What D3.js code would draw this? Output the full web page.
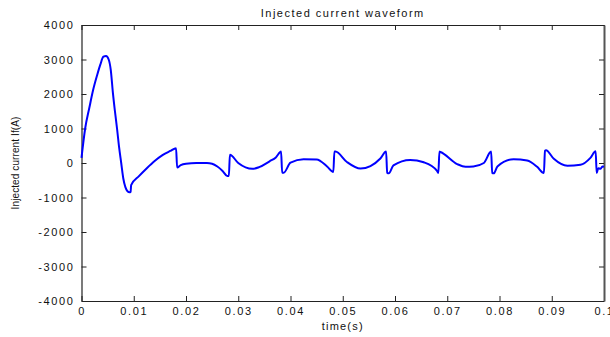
<!DOCTYPE html>
<html>
<head>
<meta charset="utf-8">
<script src="https://cdn.jsdelivr.net/npm/d3@7"></script>
<style>
  body { margin: 0; background: #fff; }
  text { font-family: "Liberation Sans", Arial, sans-serif; fill: #111; }
</style>
</head>
<body>
<svg id="chart" width="610" height="337"></svg>
<script>
// injected current (time in s, current in A)
const time = [
  0, 0.0007, 0.0015, 0.0022, 0.003, 0.0036, 0.0042, 0.0047, 0.0052, 0.0056,
  0.006, 0.0064, 0.0068, 0.0072, 0.0076, 0.008, 0.0084, 0.0088, 0.0092, 0.0094,
  0.0095, 0.011, 0.0125, 0.014, 0.0155, 0.017, 0.0181,
  0.0183, 0.019, 0.020, 0.022, 0.024, 0.025, 0.026, 0.027, 0.0279, 0.0282,
  0.0284, 0.030, 0.0327, 0.034, 0.036, 0.0372, 0.0382,
  0.0384, 0.0387, 0.040, 0.0425, 0.045, 0.047, 0.0482,
  0.0484, 0.0486, 0.0508, 0.0534, 0.0553, 0.0572, 0.0583,
  0.0585, 0.0588, 0.0597, 0.0629, 0.0655, 0.068, 0.0683,
  0.0685, 0.0687, 0.0719, 0.0735, 0.075, 0.077, 0.0784,
  0.0786, 0.0789, 0.0796, 0.0827, 0.0853, 0.0872, 0.0885,
  0.0887, 0.0889, 0.0904, 0.093, 0.0955, 0.0974, 0.0984,
  0.0986, 0.0989, 0.0993, 0.0997, 0.1
];
const current = [
  150, 1000, 1600, 2100, 2550, 2850, 3080, 3100, 3000, 2700,
  2050, 1500, 1000, 450, 0, -450, -700, -820, -850, -840,
  -640, -380, -150, 60, 230, 350, 430,
  -130, -60, -20, 0, 0, -20, -100, -230, -380, -380,
  240, 0, -170, -120, 50, 160, 330,
  -280, -280, 10, 110, 100, -100, -260,
  330, 330, 30, -160, -90, 130, 330,
  -280, -300, -70, 90, 20, -220, -290,
  330, 320, -30, -110, -100, 0, 330,
  -290, -300, -100, 110, 70, -110, -290,
  356, 370, 120, -80, -50, 150, 340,
  -290, -150, -170, -100, -110
];
const xTicks = [0, 0.01, 0.02, 0.03, 0.04, 0.05, 0.06, 0.07, 0.08, 0.09, 0.1];
const yTicks = [-4000, -3000, -2000, -1000, 0, 1000, 2000, 3000, 4000];

const width = 610, height = 337;
const margin = { top: 25, right: 6, bottom: 36, left: 81.5 };

const svg = d3.select("#chart");

const xScale = d3.scaleLinear()
  .domain([0, 0.1])
  .range([margin.left, width - margin.right]);
const yScale = d3.scaleLinear()
  .domain([-4000, 4000])
  .range([height - margin.bottom, margin.top]);

// plain hyphen-minus like the original plot
const tickFmt = d => String(d);

// axes: ticks point inward, mirrored on top and right
const bottomAxis = d3.axisBottom(xScale).tickValues(xTicks).tickFormat(tickFmt).tickSizeInner(-5).tickSizeOuter(0).tickPadding(6);
const topAxis = d3.axisTop(xScale).tickValues(xTicks).tickFormat("").tickSizeInner(-5).tickSizeOuter(0);
const leftAxis = d3.axisLeft(yScale).tickValues(yTicks).tickFormat(tickFmt).tickSizeInner(-5).tickSizeOuter(0).tickPadding(7);
const rightAxis = d3.axisRight(yScale).tickValues(yTicks).tickFormat("").tickSizeInner(-5).tickSizeOuter(0);

svg.append("g").attr("transform", `translate(0,${height - margin.bottom})`).call(bottomAxis);
svg.append("g").attr("transform", `translate(0,${margin.top})`).call(topAxis);
const gy = svg.append("g").attr("transform", `translate(${margin.left},0)`).call(leftAxis);
const gr = svg.append("g").attr("transform", `translate(${width - margin.right},0)`).call(rightAxis);

svg.selectAll(".domain").attr("stroke", "#222").attr("stroke-width", 1.2);
gr.select(".domain").attr("stroke", "#555").attr("stroke-width", 2);
svg.selectAll(".tick line").attr("stroke", "#222");
svg.selectAll(".tick text")
  .attr("font-size", 11)
  .attr("letter-spacing", "1.6px")
  .attr("fill", "#111")
  .attr("font-family", "Liberation Sans, Arial, sans-serif");
gy.selectAll(".tick text").attr("dy", "0.35em");

// waveform
const line = d3.line()
  .x((d, i) => xScale(time[i]))
  .y(d => yScale(d))
  .curve(d3.curveMonotoneX);

svg.append("path")
  .datum(current)
  .attr("d", line)
  .attr("fill", "none")
  .attr("stroke", "#0000ff")
  .attr("stroke-width", 2)
  .attr("stroke-linejoin", "round");

// labels
svg.append("text")
  .attr("x", (margin.left + width - margin.right) / 2)
  .attr("y", 17)
  .attr("text-anchor", "middle")
  .attr("font-size", 11)
  .attr("letter-spacing", "1.5px")
  .text("Injected current waveform");

svg.append("text")
  .attr("x", (margin.left + width - margin.right) / 2)
  .attr("y", 330)
  .attr("text-anchor", "middle")
  .attr("font-size", 11)
  .attr("letter-spacing", "1.2px")
  .text("time(s)");

svg.append("text")
  .attr("transform", `translate(19,${(margin.top + height - margin.bottom) / 2}) rotate(-90)`)
  .attr("text-anchor", "middle")
  .attr("font-size", 10)
  .attr("letter-spacing", "0.1px")
  .text("Injected current If(A)");
</script>
</body>
</html>
